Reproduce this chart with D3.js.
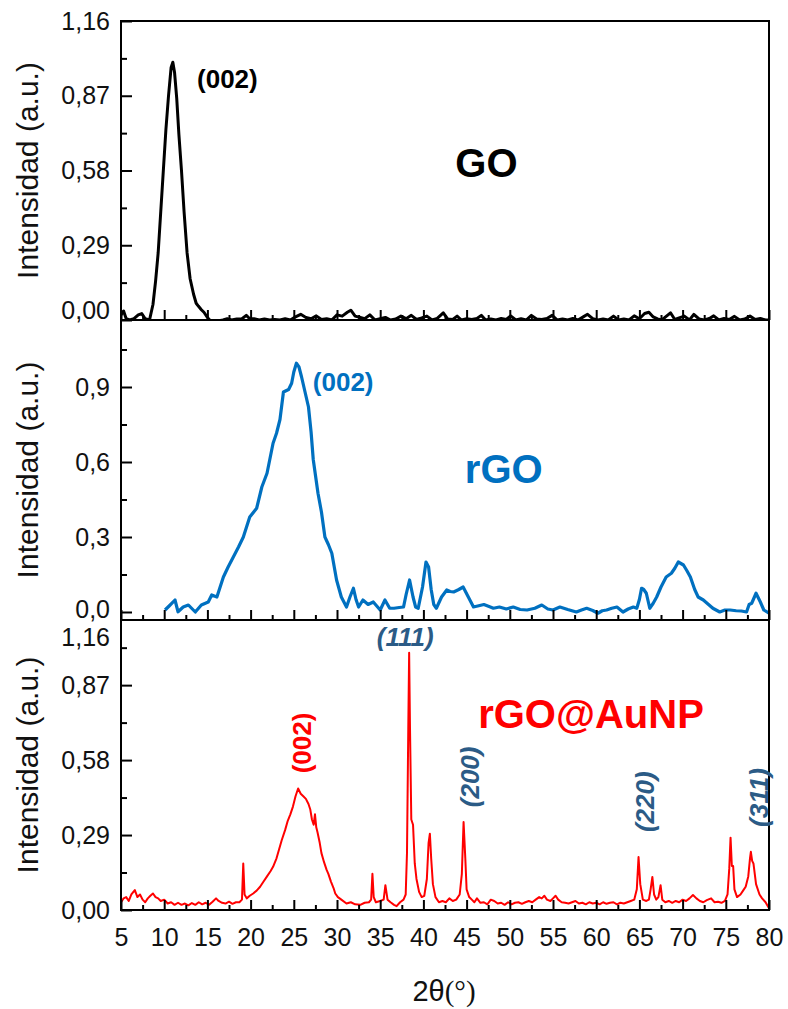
<!DOCTYPE html>
<html><head><meta charset="utf-8">
<script src="https://cdn.jsdelivr.net/npm/d3@7"></script>
<style>body{margin:0;background:#fff}svg{display:block}</style>
</head><body>
<svg id="chart" width="788" height="1009"></svg>
<script>
// ---------- DATA ----------
const goTheta = [5.0,5.3,5.6,6.0,6.5,7.0,7.4,7.8,8.3,8.7,9.0,9.3,9.6,9.9,10.2,10.5,10.8,11.0,11.2,11.45,11.7,12.0,12.3,12.65,13.0,13.4,13.7,13.95,14.3,14.6,15.0,15.4,15.8,16.2,16.8,17.3,17.8,18.4,19.0,19.5,19.9,20.4,21.0,21.6,22.2,22.8,23.4,24.0,24.6,25.2,25.8,26.4,27.0,27.6,28.2,28.8,29.4,30.0,30.6,31.2,31.6,32.1,32.7,33.2,33.8,34.4,35.0,35.6,36.2,36.8,37.4,38.0,38.6,39.2,39.8,40.4,41.0,41.6,42.3,42.8,43.4,43.9,44.4,45.0,45.6,46.2,46.7,47.2,47.8,48.4,49.0,49.6,50.1,50.7,51.3,51.9,52.5,53.1,53.7,54.3,54.9,55.5,56.1,56.7,57.3,57.9,58.5,59.0,59.6,60.2,60.8,61.4,62.0,62.6,63.2,63.8,64.4,65.0,65.6,66.1,66.6,67.1,67.6,68.1,68.6,69.1,69.6,70.2,70.8,71.3,71.9,72.5,73.1,73.6,74.2,74.8,75.4,76.0,76.6,77.2,77.8,78.4,79.0,79.6,80.0];
const goIntensity = [0.02,0.035,0.005,0.0,0.005,0.02,0.025,0.005,0.0,0.06,0.15,0.26,0.42,0.58,0.74,0.87,0.98,1.0,0.96,0.86,0.72,0.58,0.42,0.26,0.16,0.1,0.065,0.054,0.04,0.03,0.01,-0.005,-0.01,-0.004,0.0,0.005,0.0,0.004,0.005,0.018,0.005,0.005,0.0,0.004,0.0,0.002,0.0,0.005,0.0,0.012,0.022,0.01,0.005,0.016,0.002,0.005,0.0,0.02,0.015,0.03,0.038,0.015,0.01,0.005,0.02,0.0,0.005,0.01,0.0,0.004,0.015,0.005,0.018,0.002,0.008,0.015,0.0,0.006,0.028,0.004,0.002,0.015,0.0,0.005,0.002,0.006,0.018,0.0,0.004,0.0,0.006,0.002,0.016,0.0,0.005,0.0,0.018,0.004,0.002,0.006,0.018,0.0,0.004,0.0,0.006,0.0,0.012,0.022,0.005,0.0,0.004,0.0,0.015,0.0,0.004,0.0,0.016,0.005,0.025,0.03,0.012,0.004,0.0,0.014,0.028,0.002,0.008,0.015,0.0,0.022,0.004,0.0,0.006,0.016,0.0,0.006,0.002,0.014,0.0,0.004,0.015,0.002,0.006,0.0,0.0];

const rgoTheta = [10.1,10.6,11.25,11.6,12.2,12.8,13.6,14.3,15.1,15.5,16.1,16.85,17.4,18.0,18.6,19.16,19.9,20.7,21.3,21.9,22.6,23.0,23.4,23.8,24.4,24.75,25.0,25.3,25.6,25.9,26.3,26.7,27.0,27.25,27.8,28.2,28.6,29.0,29.4,29.95,30.5,31.1,31.5,31.9,32.2,32.5,33.0,33.6,34.2,35.0,35.55,36.1,36.6,37.2,37.7,38.0,38.4,38.8,39.1,39.4,39.9,40.3,40.6,40.9,41.2,41.5,42.1,42.7,43.1,43.5,44.1,44.6,45.2,45.8,46.4,47.0,47.6,48.1,48.8,49.6,50.4,51.2,52.0,52.9,53.7,54.4,55.0,55.8,56.7,57.7,58.3,58.9,59.6,60.2,60.7,61.2,61.8,62.4,63.1,63.7,64.3,64.7,65.0,65.25,65.5,65.8,66.2,66.6,67.0,67.5,68.1,68.7,69.1,69.5,70.1,70.5,70.9,71.4,71.8,72.4,73.0,73.5,74.3,74.9,75.5,76.2,76.8,77.4,77.7,78.0,78.5,79.0,79.4,80.0];
const rgoIntensity = [0.008,0.025,0.048,0.001,0.02,0.028,0.0,0.028,0.04,0.068,0.06,0.14,0.18,0.22,0.26,0.30,0.38,0.415,0.50,0.555,0.675,0.715,0.77,0.88,0.89,0.915,0.96,0.995,0.98,0.94,0.88,0.82,0.72,0.61,0.475,0.40,0.30,0.27,0.235,0.128,0.06,0.02,0.06,0.095,0.05,0.02,0.048,0.03,0.04,0.008,0.048,0.015,0.015,0.018,0.02,0.07,0.128,0.06,0.02,0.015,0.1,0.2,0.18,0.09,0.03,0.015,0.06,0.088,0.082,0.08,0.09,0.10,0.06,0.02,0.025,0.03,0.022,0.015,0.02,0.012,0.02,0.01,0.008,0.015,0.028,0.012,0.008,0.02,0.01,0.0,0.008,0.015,0.006,-0.005,0.005,0.008,0.015,0.02,0.0,0.012,0.02,0.015,0.05,0.095,0.09,0.075,0.015,0.035,0.06,0.1,0.14,0.155,0.175,0.20,0.188,0.165,0.14,0.09,0.06,0.048,0.03,0.015,0.0,0.008,0.008,0.005,0.004,0.0,0.03,0.035,0.075,0.04,0.008,-0.005];

const augTheta = [5.0,5.3,5.6,5.9,6.2,6.6,6.9,7.2,7.5,7.8,8.1,8.4,8.7,9.0,9.3,9.6,10.0,10.4,10.8,11.2,11.6,12.0,12.4,12.8,13.2,13.6,14.0,14.4,14.8,15.2,15.6,16.0,16.3,16.7,17.1,17.5,17.9,18.3,18.7,19.0,19.15,19.3,19.55,19.9,20.3,20.7,21.1,21.5,21.9,22.3,22.6,23.0,23.3,23.6,24.0,24.3,24.6,24.9,25.2,25.5,25.8,26.1,26.4,26.7,26.9,27.1,27.3,27.45,27.6,27.75,28.0,28.2,28.5,28.8,29.0,29.3,29.6,29.8,30.1,30.5,31.1,31.6,32.1,32.7,33.2,33.7,33.95,34.1,34.25,34.5,35.0,35.4,35.6,35.85,36.2,36.6,36.9,37.3,37.7,37.95,38.1,38.25,38.35,38.45,38.6,38.8,39.0,39.2,39.5,39.8,40.1,40.4,40.6,40.75,40.9,41.1,41.4,41.8,42.2,42.6,43.0,43.4,43.8,44.2,44.45,44.65,44.85,45.0,45.3,45.6,45.9,46.2,46.6,47.0,47.4,47.8,48.2,48.6,49.0,49.4,49.8,50.2,50.6,51.0,51.4,51.8,52.2,52.6,53.0,53.4,53.7,54.0,54.3,54.7,55.0,55.3,55.6,56.0,56.4,56.8,57.2,57.6,58.0,58.4,58.8,59.2,59.6,60.0,60.4,60.8,61.2,61.6,62.0,62.4,62.8,63.2,63.6,64.0,64.4,64.7,64.9,65.1,65.4,65.8,66.1,66.3,66.5,66.7,66.95,67.2,67.45,67.65,68.0,68.4,68.8,69.2,69.6,70.0,70.4,70.8,71.2,71.6,72.0,72.4,72.8,73.3,73.7,74.1,74.5,74.9,75.2,75.4,75.55,75.7,75.85,76.0,76.3,76.7,77.0,77.3,77.6,77.8,77.9,78.05,78.2,78.5,78.9,79.2,79.6,80.0];
const augIntensity = [0.03,0.045,0.05,0.035,0.06,0.077,0.05,0.06,0.04,0.03,0.045,0.055,0.064,0.05,0.045,0.035,0.04,0.025,0.03,0.02,0.028,0.02,0.025,0.018,0.027,0.02,0.03,0.022,0.028,0.02,0.032,0.045,0.035,0.028,0.025,0.032,0.024,0.03,0.03,0.04,0.18,0.06,0.045,0.055,0.064,0.075,0.09,0.11,0.13,0.15,0.167,0.2,0.235,0.27,0.31,0.345,0.37,0.40,0.44,0.47,0.45,0.44,0.43,0.41,0.39,0.35,0.33,0.37,0.32,0.30,0.26,0.22,0.185,0.155,0.14,0.11,0.085,0.064,0.05,0.04,0.025,0.03,0.022,0.02,0.028,0.03,0.04,0.14,0.05,0.03,0.035,0.04,0.096,0.04,0.03,0.02,0.015,0.03,0.04,0.06,0.22,0.7,0.995,0.7,0.35,0.33,0.18,0.12,0.07,0.05,0.055,0.12,0.26,0.295,0.2,0.1,0.05,0.03,0.035,0.03,0.045,0.035,0.04,0.06,0.14,0.34,0.2,0.08,0.05,0.04,0.03,0.045,0.028,0.03,0.022,0.04,0.035,0.025,0.028,0.02,0.03,0.022,0.028,0.03,0.024,0.03,0.035,0.03,0.04,0.05,0.045,0.055,0.04,0.035,0.045,0.055,0.04,0.03,0.028,0.025,0.03,0.035,0.025,0.028,0.022,0.03,0.025,0.028,0.022,0.03,0.024,0.028,0.03,0.022,0.028,0.025,0.03,0.035,0.04,0.08,0.205,0.1,0.04,0.035,0.04,0.08,0.128,0.06,0.04,0.05,0.096,0.04,0.03,0.035,0.028,0.035,0.03,0.04,0.035,0.045,0.058,0.045,0.035,0.03,0.038,0.045,0.03,0.032,0.028,0.035,0.06,0.16,0.28,0.17,0.17,0.08,0.05,0.06,0.075,0.09,0.13,0.2,0.225,0.19,0.18,0.1,0.06,0.045,0.03,0.007];

const xTicks = [5,10,15,20,25,30,35,40,45,50,55,60,65,70,75,80];
const xMinorTicks = [7.5,12.5,17.5,22.5,27.5,32.5,37.5,42.5,47.5,52.5,57.5,62.5,67.5,72.5,77.5];
const goYTicks = [0,0.29,0.58,0.87,1.16];
const goYMinor = [0.145,0.435,0.725,1.015];
const rgoYTicks = [0,0.3,0.6,0.9];
const rgoYMinor = [0.15,0.45,0.75,1.05];
const augYTicks = [0,0.29,0.58,0.87,1.16];
const augYMinor = [0.145,0.435,0.725,1.015];

const panelNames = ["GO","rGO","rGO@AuNP"];
const peakLabels = [
  {panel:0, text:"(002)", t:13.8, v:0.90, anchor:"start", rot:false, italic:false, color:"#000000"},
  {panel:1, text:"(002)", t:27.2, v:0.885, anchor:"start", rot:false, italic:false, color:"#0070c0"},
  {panel:2, text:"(002)", t:25.95, v:0.646, anchor:"middle", rot:true, italic:false, color:"#ff0000"},
  {panel:2, text:"(111)", t:37.9, v:1.02, anchor:"middle", rot:false, italic:true, color:"#2b5b86"},
  {panel:2, text:"(200)", t:45.4, v:0.515, anchor:"middle", rot:true, italic:true, color:"#2b5b86"},
  {panel:2, text:"(220)", t:65.65, v:0.419, anchor:"middle", rot:true, italic:true, color:"#2b5b86"},
  {panel:2, text:"(311)", t:78.85, v:0.435, anchor:"middle", rot:true, italic:true, color:"#2b5b86"}
];
const nameLabels = [
  {panel:0, t:47.3, v:0.553, color:"#000000"},
  {panel:1, t:49.3, v:0.516, color:"#0070c0"},
  {panel:2, t:59.4, v:0.704, color:"#ff0000"}
];

// ---------- LAYOUT ----------
const svg = d3.select("#chart");
const L = 121, R = 769;
const FONT = "'Liberation Sans', Arial, sans-serif";
const x = d3.scaleLinear().domain([5,80]).range([L,R]);

const panels = [
  {top:21, bottom:320, y:d3.scaleLinear().domain([0,1.16]).range([320,21]),
   theta:goTheta, val:goIntensity, color:"#000000", width:3,
   ticks:goYTicks, minor:goYMinor, fmt:d=>d.toFixed(2).replace(".",",")},
  {top:320, bottom:620, y:d3.scaleLinear().domain([-0.032,1.168]).range([620,320]),
   theta:rgoTheta, val:rgoIntensity, color:"#0070c0", width:3.2,
   ticks:rgoYTicks, minor:rgoYMinor, fmt:d=>d.toFixed(1).replace(".",",")},
  {top:620, bottom:910, y:d3.scaleLinear().domain([0,1.122]).range([910,620]),
   theta:augTheta, val:augIntensity, color:"#ff0000", width:2,
   ticks:augYTicks, minor:augYMinor, fmt:d=>d.toFixed(2).replace(".",",")}
];

panels.forEach((p,i) => {
  const g = svg.append("g");
  const cid = "clip"+i;
  svg.append("clipPath").attr("id",cid).append("rect")
    .attr("x",L).attr("y",p.top).attr("width",R-L).attr("height",p.bottom-p.top);

  // data line
  const line = d3.line().x((d,k)=>x(p.theta[k])).y((d,k)=>p.y(p.val[k]));
  g.append("path").datum(p.val).attr("d",line)
    .attr("fill","none").attr("stroke",p.color).attr("stroke-width",p.width)
    .attr("stroke-linejoin","round").attr("clip-path","url(#"+cid+")");

  // x ticks (inward, up)
  const xa = d3.axisBottom(x).tickValues(xTicks).tickSize(-10).tickSizeOuter(0)
      .tickPadding(18).tickFormat(i===2 ? d3.format("d") : "");
  const gx = g.append("g").attr("transform",`translate(0,${p.bottom})`).call(xa);
  gx.select(".domain").remove();
  gx.selectAll("line").attr("stroke","#000").attr("stroke-width",2);
  gx.selectAll("text").attr("font-family",FONT).attr("font-size",25).attr("fill","#111");
  const xm = d3.axisBottom(x).tickValues(xMinorTicks).tickSize(-5).tickSizeOuter(0).tickFormat("");
  const gxm = g.append("g").attr("transform",`translate(0,${p.bottom})`).call(xm);
  gxm.select(".domain").remove();
  gxm.selectAll("line").attr("stroke","#000").attr("stroke-width",2);

  // y ticks (inward, right)
  const domainTop = p.y.domain()[1];
  const inRange = p.ticks.filter(v => v <= domainTop + 1e-9);
  const ya = d3.axisLeft(p.y).tickValues(inRange).tickSize(-11).tickSizeOuter(0).tickPadding(11).tickFormat(p.fmt);
  const gy = g.append("g").attr("transform",`translate(${L},0)`).call(ya);
  gy.select(".domain").remove();
  gy.selectAll("line").attr("stroke","#000").attr("stroke-width",2);
  gy.selectAll("text").attr("font-family",FONT).attr("font-size",25).attr("fill","#111")
    .attr("dy", d => (i===0 && d===0) ? "-0.05em" : (i===1 && d===0 ? "0.2em" : "0.32em"));
  // labels of ticks beyond the panel top (drawn just under the top edge)
  p.ticks.filter(v => v > domainTop + 1e-9).forEach(v => {
    g.append("text").attr("x",L-11).attr("y",p.y(domainTop)).attr("dy","1.05em")
      .attr("text-anchor","end").attr("font-family",FONT).attr("font-size",25).attr("fill","#111")
      .text(p.fmt(v));
  });
  const ym = d3.axisLeft(p.y).tickValues(p.minor).tickSize(-6).tickSizeOuter(0).tickFormat("");
  const gym = g.append("g").attr("transform",`translate(${L},0)`).call(ym);
  gym.select(".domain").remove();
  gym.selectAll("line").attr("stroke","#000").attr("stroke-width",2);

  // y title
  g.append("text").attr("transform",`translate(27,${(p.top+p.bottom)/2}) rotate(-90)`)
    .attr("text-anchor","middle").attr("dominant-baseline","central")
    .attr("font-family",FONT).attr("font-size",30).attr("fill","#111")
    .text("Intensidad (a.u.)");
});

// frame
svg.append("rect").attr("x",L).attr("y",21).attr("width",R-L).attr("height",910-21)
  .attr("fill","none").attr("stroke","#000").attr("stroke-width",2);
[320,620].forEach(yy => svg.append("line").attr("x1",L).attr("x2",R).attr("y1",yy).attr("y2",yy)
  .attr("stroke","#000").attr("stroke-width",2));

// names
nameLabels.forEach(n => {
  const p = panels[n.panel];
  svg.append("text").attr("x",x(n.t)).attr("y",p.y(n.v)).attr("text-anchor","middle")
    .attr("font-family",FONT).attr("font-weight","bold").attr("font-size",40)
    .attr("fill",n.color).text(panelNames[n.panel]);
});

// peak labels
peakLabels.forEach(a => {
  const p = panels[a.panel];
  const t = svg.append("text").attr("font-family",FONT).attr("font-weight","bold")
    .attr("font-size",26).attr("fill",a.color).attr("text-anchor",a.anchor)
    .attr("font-style",a.italic ? "italic" : "normal").text(a.text);
  if (a.rot) {
    t.attr("transform",`translate(${x(a.t)},${p.y(a.v)}) rotate(-90)`).attr("dominant-baseline","central");
  } else {
    t.attr("x",x(a.t)).attr("y",p.y(a.v));
  }
});

// x title
svg.append("text").attr("x",(L+R)/2 - 1).attr("y",1001).attr("text-anchor","middle")
  .attr("font-size",29).attr("fill","#111")
  .call(s => {
    s.append("tspan").attr("font-family",FONT).text("2θ");
    s.append("tspan").attr("font-family","'Liberation Serif', 'Times New Roman', serif").text("(°)");
  });
</script>
</body></html>
